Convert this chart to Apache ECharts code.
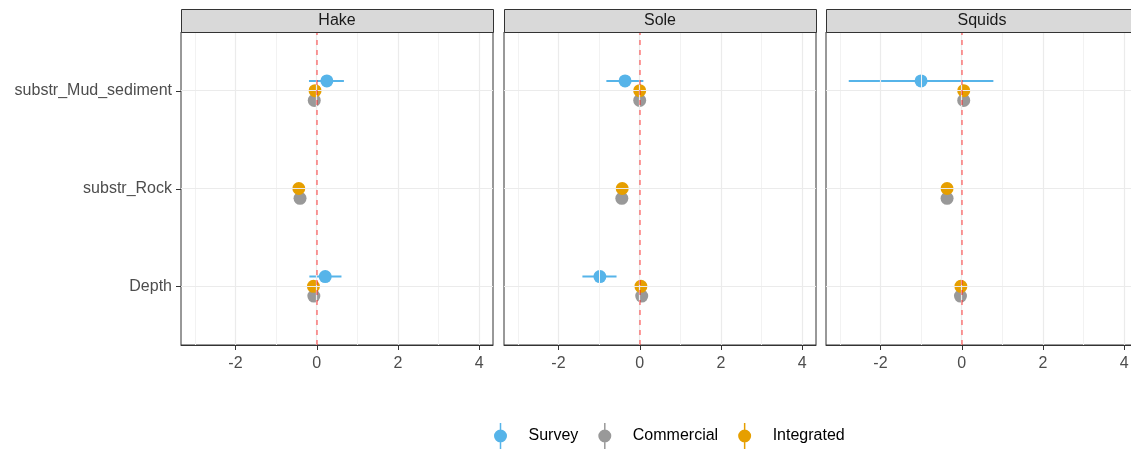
<!DOCTYPE html>
<html>
<head>
<meta charset="utf-8">
<script src="https://cdn.jsdelivr.net/npm/echarts@6.0.0/dist/echarts.min.js"></script>
<style>
html,body{margin:0;padding:0;background:#fff;}
#chart{width:1131px;height:449px;}
</style>
</head>
<body>
<div id="chart"></div>
<script>
// ---- data ----
const panels = ['Hake', 'Sole', 'Squids'];
const categories = ['Depth', 'substr_Rock', 'substr_Mud_sediment']; // bottom -> top
const seriesNames = ['Survey', 'Commercial', 'Integrated'];
// per panel, per category (Depth, Rock, Mud)
const surveyEst  = [[0.21, null, 0.25], [-0.98, null, -0.36], [null, null, -1.00]];
const surveyLow  = [[-0.18, null, -0.19], [-1.41, null, -0.82], [null, null, -2.78]];
const surveyHigh = [[0.61, null, 0.67], [-0.57, null, 0.09], [null, null, 0.78]];
const commercialEst = [[-0.07, -0.41, -0.06], [0.05, -0.44, 0.00], [-0.03, -0.36, 0.05]];
const integratedEst = [[-0.08, -0.44, -0.04], [0.03, -0.43, 0.00], [-0.02, -0.36, 0.05]];
const xTicks = [-2, 0, 2, 4];
const xMinorTicks = [-3, -1, 1, 3];
const refLine = 0;

// ---- styling / layout ----
const colors = { Survey: '#56B4E9', Commercial: '#999999', Integrated: '#E69F00' };
const dodge = { Survey: 0.1, Commercial: -0.1, Integrated: 0 };
const FONT = 'Liberation Sans, Arial, sans-serif';
const gridLefts = [181, 504, 826];
const gridW = 312, gridTop = 32, gridH = 313;
const xMin = -3.34, xMax = 4.34;
const yMin = 0.4, yMax = 3.6;
const TICK = 5;
const catPos = categories.map((c, i) => i + 1);

const chart = echarts.init(document.getElementById('chart'), null, { renderer: 'canvas' });

const grids = [], xAxes = [], yAxes = [], series = [], graphics = [];

function tickSeries(k, values, dir) {
  return {
    type: 'custom', name: 'ticks' + dir + k, xAxisIndex: k, yAxisIndex: k, z: 6, silent: true, clip: false,
    data: values.map(v => [v]),
    encode: dir === 'x' ? { x: 0 } : { y: 0 },
    renderItem: (params, api) => {
      const v = api.value(0);
      const p = dir === 'x' ? api.coord([v, yMin]) : api.coord([xMin, v]);
      const shape = dir === 'x'
        ? { x1: Math.round(p[0]) + 0.5, y1: p[1], x2: Math.round(p[0]) + 0.5, y2: p[1] + TICK }
        : { x1: p[0], y1: Math.round(p[1]) + 0.5, x2: p[0] - TICK, y2: Math.round(p[1]) + 0.5 };
      return { type: 'line', shape: shape, style: { stroke: '#333333', lineWidth: 1 } };
    }
  };
}

panels.forEach((p, k) => {
  grids.push({
    left: gridLefts[k], width: gridW, top: gridTop, height: gridH,
    outerBoundsMode: 'none',
    show: true, borderColor: '#333333', borderWidth: 1, backgroundColor: '#ffffff',
    containLabel: false
  });
  xAxes.push({
    type: 'value', gridIndex: k, min: xMin, max: xMax,
    axisLine: { show: true, lineStyle: { color: '#333333', width: 1 } },
    axisTick: { show: false },
    axisLabel: { show: true, color: '#4D4D4D', fontSize: 16, fontFamily: FONT, margin: 11, customValues: xTicks },
    splitLine: { show: false }
  });
  yAxes.push({
    type: 'value', gridIndex: k, min: yMin, max: yMax,
    axisLine: { show: true, lineStyle: { color: '#333333', width: 1 } },
    axisTick: { show: false },
    axisLabel: {
      show: k === 0, color: '#4D4D4D', fontSize: 16, fontFamily: FONT, margin: 9,
      customValues: catPos,
      formatter: v => categories[Math.round(v) - 1] || ''
    },
    splitLine: { show: false }
  });

  // background grid lines (major/minor) drawn through axes via markLine
  series.push({
    type: 'scatter', name: 'grid' + k, xAxisIndex: k, yAxisIndex: k, data: [], z: 1, silent: true,
    markLine: {
      silent: true, symbol: 'none', label: { show: false }, animation: false,
      data: [
        ...xMinorTicks.map(v => ({ xAxis: v, lineStyle: { color: '#F2F2F2', width: 1, type: 'solid' } })),
        ...xTicks.map(v => ({ xAxis: v, lineStyle: { color: '#EBEBEB', width: 1.2, type: 'solid' } })),
        ...catPos.map(v => ({ yAxis: v, lineStyle: { color: '#EBEBEB', width: 1.2, type: 'solid' } }))
      ]
    }
  });

  // axis ticks
  series.push(tickSeries(k, xTicks, 'x'));
  if (k === 0) series.push(tickSeries(k, catPos, 'y'));

  // survey error bars
  const ebData = [];
  categories.forEach((c, i) => {
    if (surveyEst[k][i] != null) ebData.push([surveyLow[k][i], surveyHigh[k][i], catPos[i] + dodge.Survey]);
  });
  series.push({
    type: 'custom', name: 'Survey_range', xAxisIndex: k, yAxisIndex: k, z: 2, silent: true,
    encode: { x: [0, 1], y: 2 },
    data: ebData,
    renderItem: (params, api) => {
      const a = api.coord([api.value(0), api.value(2)]);
      const b = api.coord([api.value(1), api.value(2)]);
      return {
        type: 'line',
        shape: { x1: a[0], y1: a[1], x2: b[0], y2: b[1] },
        style: { stroke: colors.Survey, lineWidth: 2 }
      };
    }
  });

  const estBy = { Survey: surveyEst, Commercial: commercialEst, Integrated: integratedEst };
  seriesNames.forEach(name => {
    const d = [];
    categories.forEach((c, i) => {
      const v = estBy[name][k][i];
      if (v != null) d.push([v, catPos[i] + dodge[name]]);
    });
    series.push({
      type: 'scatter', name: name, xAxisIndex: k, yAxisIndex: k, z: 3,
      symbol: 'circle', symbolSize: 13,
      itemStyle: { color: colors[name], opacity: 1 },
      data: d
    });
  });

  // reference dashed line at 0
  series.push({
    type: 'scatter', name: 'ref' + k, xAxisIndex: k, yAxisIndex: k, data: [], z: 5, silent: true,
    markLine: {
      silent: true, symbol: 'none', label: { show: false }, animation: false,
      lineStyle: { color: 'rgba(255,0,0,0.48)', width: 1.6, type: [5, 5] },
      data: [{ xAxis: refLine }]
    }
  });

  // facet strip
  graphics.push({
    type: 'rect', left: gridLefts[k], top: 9,
    shape: { x: 0, y: 0, width: gridW, height: 23 },
    style: { fill: '#D9D9D9', stroke: '#333333', lineWidth: 1 }, z: 10
  });
  graphics.push({
    type: 'text', x: gridLefts[k] + gridW / 2, y: 21,
    style: { text: p, fill: '#1A1A1A', font: '16px ' + FONT, textAlign: 'center', textVerticalAlign: 'middle' },
    z: 11
  });
});

const legendIcon = 'path://M6.25 0 L7.75 0 L7.75 26 L6.25 26 Z M7 6.5 A6.5 6.5 0 1 1 7 19.5 A6.5 6.5 0 1 1 7 6.5 Z';

chart.setOption({
  animation: false,
  backgroundColor: '#ffffff',
  textStyle: { fontFamily: FONT },
  grid: grids,
  xAxis: xAxes,
  yAxis: yAxes,
  legend: {
    data: seriesNames,
    icon: legendIcon,
    itemWidth: 14, itemHeight: 26,
    left: 489, top: 418,
    itemGap: 20,
    selectedMode: false,
    textStyle: { fontSize: 16, color: '#000000', fontFamily: FONT, padding: [0, 0, 0, 16] }
  },
  graphic: graphics,
  series: series
});
</script>
</body>
</html>
